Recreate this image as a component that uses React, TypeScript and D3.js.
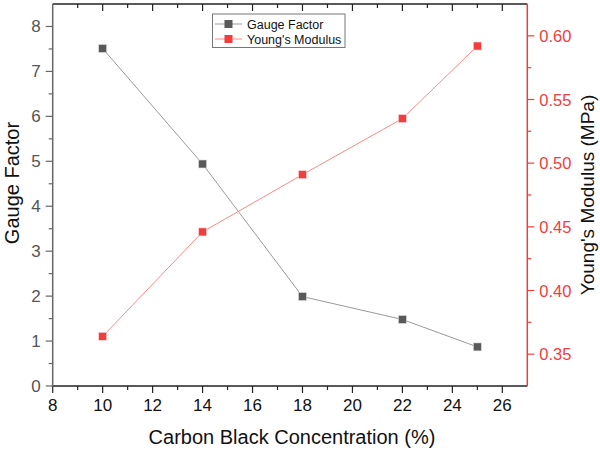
import React from "react";
import * as d3 from "d3";

const concentration = [10, 14, 18, 22, 25];
const gaugeFactor = [7.51, 4.94, 1.99, 1.48, 0.87];
const youngsModulus = [0.364, 0.446, 0.491, 0.535, 0.592];
const xTicks = [8, 10, 12, 14, 16, 18, 20, 22, 24, 26];
const yLeftTicks = [0, 1, 2, 3, 4, 5, 6, 7, 8];
const yRightTicks = [0.35, 0.4, 0.45, 0.5, 0.55, 0.6];

const W = 600, H = 451;
const L = 52.7, R = 527.3, T = 4, B = 386;
const FONT = "Liberation Sans, Arial, sans-serif";
const RED = "#f23d3d";

export default function App() {
  const x = d3.scaleLinear().domain([8, 27]).range([L, R]);
  const yL = d3.scaleLinear().domain([0, 8.5]).range([B, T]);
  const yR = d3.scaleLinear().domain([0.325, 0.625]).range([B, T]);
  const xMinor = d3.range(9, 27, 2);
  const yLMinor = d3.range(0.5, 8.5, 1);
  const yRMinor = [0.375, 0.425, 0.475, 0.525, 0.575];
  const lineGF = d3.line<number>().x((_, i) => x(concentration[i])).y((d) => yL(d));
  const lineYM = d3.line<number>().x((_, i) => x(concentration[i])).y((d) => yR(d));

  return (
    <svg width={W} height={H} style={{ position: "absolute", left: 0, top: 0, background: "#fff" }} fontFamily={FONT}>
      <rect x={0} y={0} width={W} height={H} fill="#fff" />
      {/* top axis */}
      <line x1={L} x2={R} y1={T} y2={T} stroke="#222" strokeWidth={1.5} />
      {xTicks.slice(1).map((t) => (
        <line key={"tt" + t} x1={x(t)} x2={x(t)} y1={T} y2={T + 7} stroke="#222" strokeWidth={1.2} />
      ))}
      {xMinor.map((t) => (
        <line key={"tm" + t} x1={x(t)} x2={x(t)} y1={T} y2={T + 4} stroke="#222" strokeWidth={1.2} />
      ))}
      {/* bottom axis */}
      <line x1={L} x2={R} y1={B} y2={B} stroke="#222" strokeWidth={1.5} />
      {xTicks.map((t) => (
        <g key={"bt" + t}>
          <line x1={x(t)} x2={x(t)} y1={B} y2={B + 7} stroke="#222" strokeWidth={1.2} />
          <text x={x(t)} y={B + 25} textAnchor="middle" fontSize={17} fill="#111">{t}</text>
        </g>
      ))}
      {xMinor.map((t) => (
        <line key={"bm" + t} x1={x(t)} x2={x(t)} y1={B} y2={B + 4} stroke="#222" strokeWidth={1.2} />
      ))}
      <text x={(L + R) / 2 + 2} y={444} textAnchor="middle" fontSize={20} fill="#111">Carbon Black Concentration (%)</text>
      {/* left axis */}
      <line x1={L} x2={L} y1={T} y2={B} stroke="#666" strokeWidth={1.5} />
      {yLeftTicks.map((t) => (
        <g key={"lt" + t}>
          <line x1={L - 7} x2={L} y1={yL(t)} y2={yL(t)} stroke="#666" strokeWidth={1.2} />
          <text x={L - 12} y={yL(t) + 6} textAnchor="end" fontSize={17} fill="#555">{t}</text>
        </g>
      ))}
      {yLMinor.map((t) => (
        <line key={"lm" + t} x1={L - 4} x2={L} y1={yL(t)} y2={yL(t)} stroke="#666" strokeWidth={1.2} />
      ))}
      <text transform={`translate(19,${(T + B) / 2 - 12}) rotate(-90)`} textAnchor="middle" fontSize={20} fill="#111">Gauge Factor</text>
      {/* right axis */}
      <line x1={R} x2={R} y1={T} y2={B} stroke={RED} strokeWidth={1.5} />
      {yRightTicks.map((t) => (
        <g key={"rt" + t}>
          <line x1={R} x2={R + 7} y1={yR(t)} y2={yR(t)} stroke={RED} strokeWidth={1.2} />
          <text x={R + 12} y={yR(t) + 6} textAnchor="start" fontSize={16.5} fill={RED}>{t.toFixed(2)}</text>
        </g>
      ))}
      {yRMinor.map((t) => (
        <line key={"rm" + t} x1={R} x2={R + 4} y1={yR(t)} y2={yR(t)} stroke={RED} strokeWidth={1.2} />
      ))}
      <text transform={`translate(594,${(T + B) / 2}) rotate(-90)`} textAnchor="middle" fontSize={19} fill="#111">Young's Modulus (MPa)</text>
      {/* series */}
      <path d={lineGF(gaugeFactor) || ""} fill="none" stroke="#999" strokeWidth={1} />
      <path d={lineYM(youngsModulus) || ""} fill="none" stroke="#f88" strokeWidth={1} />
      {gaugeFactor.map((v, i) => (
        <rect key={"gf" + i} x={x(concentration[i]) - 4} y={yL(v) - 4} width={8} height={8} fill="#595959" stroke="#e0e0e0" strokeWidth={0.6} />
      ))}
      {youngsModulus.map((v, i) => (
        <rect key={"ym" + i} x={x(concentration[i]) - 4} y={yR(v) - 4} width={8} height={8} fill="#f23d3d" stroke="#fcdada" strokeWidth={0.6} />
      ))}
      {/* legend */}
      <rect x={212.5} y={14} width={132.5} height={33.5} fill="#fff" stroke="#777" strokeWidth={1} />
      <line x1={215} x2={242} y1={24} y2={24} stroke="#999" strokeWidth={1} />
      <rect x={224.5} y={20} width={8} height={8} fill="#595959" />
      <text x={247} y={28.5} fontSize={12.5} fill="#111">Gauge Factor</text>
      <line x1={215} x2={242} y1={39} y2={39} stroke="#f88" strokeWidth={1} />
      <rect x={224.5} y={35} width={8} height={8} fill="#f23d3d" />
      <text x={247} y={43.5} fontSize={12.5} fill="#111">Young's Modulus</text>
    </svg>
  );
}
